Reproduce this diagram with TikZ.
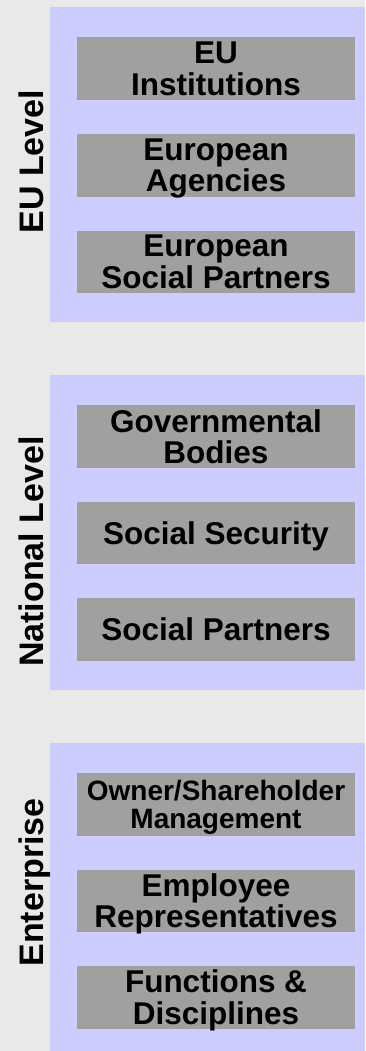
\documentclass[tikz,border=0pt]{standalone}
\usepackage{fontspec}
\setmainfont{Liberation Sans}
\usepackage{tikz}
\newcommand{\pas}{367.75}
\newcommand{\cote}{315}
\newcommand{\bh}{62.5}
\newcommand{\bp}{96.5}
\definecolor{fond}{RGB}{233,233,233}
\definecolor{lavande}{RGB}{204,204,255}
\definecolor{grisboite}{RGB}{160,160,160}
\tikzstyle{panneau}=[fill=lavande]
\tikzstyle{boite}=[fill=grisboite, minimum width=278pt, minimum height=\bh pt, inner sep=0, align=center, text depth=0pt, font=\bfseries\fontsize{31.5}{31.5}\selectfont]
\tikzstyle{petit}=[font=\bfseries\fontsize{28}{28}\selectfont]
\tikzstyle{niveau}=[rotate=90, anchor=base, inner sep=0, font=\bfseries\fontsize{34}{34}\selectfont]
% #1 rang, #2 titre, #3 hauteur du titre, #4-#6 boites, #7 style de la premiere boite
\newcommand{\etage}[7]{
  \begin{scope}[shift={(0,#1*\pas)}]
  \path[panneau] (50,7) rectangle ++(\cote,\cote);
  \node[niveau] (L#1) at (43,#3) {#2};
  \node[boite,#7] (B#1a) at (216,7+30.5+\bh/2) {#4};
  \node[boite] (B#1b) at (216,7+30.5+\bp+\bh/2) {#5};
  \node[boite] (B#1c) at (216,7+30.5+2*\bp+\bh/2) {#6};
  \end{scope}
}

\begin{document}
\begin{tikzpicture}[x=1pt,y=-1pt]
  \clip (0,0) rectangle (365,1051);
  \fill[fond] (0,0) rectangle (365,1051);

  \etage{0}{EU Level}{161.7}{EU\\Institutions}{European\\Agencies}{European\\Social Partners}{}
  \etage{1}{National Level}{183.9}{Governmental\\Bodies}{Social Security}{Social Partners}{}
  \etage{2}{Enterprise}{147}{Owner/Shareholder\\Management}{Employee\\Representatives}{Functions \&\\Disciplines}{petit}
\end{tikzpicture}
\end{document}
